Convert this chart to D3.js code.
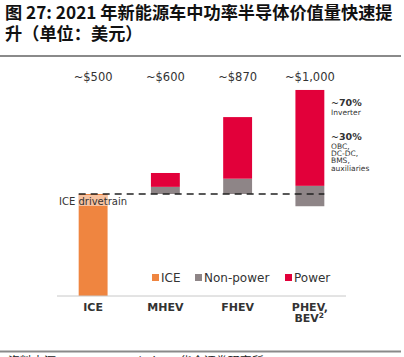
<!DOCTYPE html>
<html><head><meta charset="utf-8">
<script src="https://cdn.jsdelivr.net/npm/d3@7"></script>
<style>body{margin:0;background:#fff}svg{display:block}</style>
</head><body>
<script>
const categories = ["ICE", "MHEV", "FHEV", "PHEV,"];
const totalLabels = ["~$500", "~$600", "~$870", "~$1,000"];
// stacked segments: [start, end] in US$
const iceSeg = [[0, 500], null, null, null];
const nonPowerSeg = [null, [500, 535], [500, 575], [440, 540]];
const powerSeg = [null, [535, 603], [575, 877], [540, 1010]];
const baselineICE = 500;
const legendNames = ["ICE", "Non-power", "Power"];
const colors = {ICE: "#EF8540", "Non-power": "#8E8587", Power: "#E2003A"};

const W = 404, H = 357;
const svg = d3.select("body").append("svg").attr("width", W).attr("height", H);
const cjk = "'Noto Sans CJK SC', 'DejaVu Sans', sans-serif";
const lat = "'DejaVu Sans', sans-serif";

// title
svg.append("text").attr("x", 5).attr("y", 19).attr("font-family", cjk).attr("font-weight", "bold")
  .attr("font-size", 17.2).attr("fill", "#111").text("图 27: 2021 年新能源车中功率半导体价值量快速提");
svg.append("text").attr("x", 5).attr("y", 40).attr("font-family", cjk).attr("font-weight", "bold")
  .attr("font-size", 17.2).attr("fill", "#111").text("升（单位：美元）");
svg.append("line").attr("x1", 0).attr("x2", 401).attr("y1", 56).attr("y2", 56).attr("stroke", "#8a8a8a").attr("stroke-width", 2);
svg.append("line").attr("x1", 0).attr("x2", 401).attr("y1", 351.5).attr("y2", 351.5).attr("stroke", "#8a8a8a").attr("stroke-width", 2);
svg.append("text").attr("x", 8).attr("y", 366).attr("font-family", cjk)
  .attr("font-size", 12).attr("fill", "#222").text("资料来源：Strategy Analytics，华金证券研究所");

const x = d3.scaleBand().domain(categories).range([57, 346]).paddingInner(0.6).paddingOuter(0.3);
const y = d3.scaleLinear().domain([0, 500]).range([296, 194]);
const bw = x.bandwidth();

function drawSeg(arr, color) {
  svg.append("g").selectAll("rect").data(arr.map((s, i) => ({s, c: categories[i]})).filter(d => d.s))
    .join("rect").attr("x", d => x(d.c)).attr("width", bw)
    .attr("y", d => y(d.s[1])).attr("height", d => y(d.s[0]) - y(d.s[1])).attr("fill", color);
}
drawSeg(iceSeg, colors.ICE);
drawSeg(nonPowerSeg, colors["Non-power"]);
drawSeg(powerSeg, colors.Power);

// dashed ICE drivetrain line
svg.append("line").attr("x1", x(categories[0])).attr("x2", x(categories[3]) + bw)
  .attr("y1", y(baselineICE)).attr("y2", y(baselineICE))
  .attr("stroke", "#222").attr("stroke-width", 1.5).attr("stroke-dasharray", "7,5");
// label with translucent background
svg.append("rect").attr("x", x(categories[0])).attr("y", y(baselineICE) + 1).attr("width", bw).attr("height", 11)
  .attr("fill", "#fff").attr("opacity", 0.5);
svg.append("text").attr("x", 59).attr("y", y(baselineICE) + 11).attr("font-family", lat)
  .attr("font-size", 10).attr("fill", "#333").text("ICE drivetrain");

// total labels
svg.append("g").selectAll("text").data(categories).join("text")
  .attr("x", d => x(d) + bw / 2).attr("y", 81).attr("text-anchor", "middle")
  .attr("font-family", lat).attr("font-size", 11.5).attr("fill", "#333")
  .text((d, i) => totalLabels[i]);

// x axis
const xAxis = d3.axisBottom(x).tickSize(0).tickPadding(8);
const gx = svg.append("g").attr("transform", "translate(0,296)").call(xAxis);
gx.select(".domain").attr("stroke", "#c8c8c8").attr("stroke-width", 1).attr("d", "M57,0H346");
gx.selectAll(".tick text").attr("font-family", lat).attr("font-size", 11).attr("font-weight", "bold").attr("fill", "#333")
  .attr("y", 0).attr("dy", 15.2);
gx.append("text").attr("x", x(categories[3]) - 1).attr("y", 26.2).attr("text-anchor", "start")
  .attr("font-family", lat).attr("font-size", 11).attr("font-weight", "bold").attr("fill", "#333")
  .text("BEV").append("tspan").attr("dy", -4.5).attr("font-size", 7.5).text("2");

// legend
const lg = svg.append("g").attr("font-family", lat).attr("font-size", 12).attr("fill", "#333");
const lx = [152, 195, 285];
legendNames.forEach((n, i) => {
  lg.append("rect").attr("x", lx[i]).attr("y", 274).attr("width", 7).attr("height", 7).attr("fill", colors[n]);
  lg.append("text").attr("x", lx[i] + 9).attr("y", 282).text(n);
});

// annotations
const ax = 331;
const ann = svg.append("g").attr("font-family", lat).attr("fill", "#333");
ann.append("text").attr("x", ax).attr("y", 106).attr("font-size", 9.5).attr("font-weight", "bold").text("~70%");
ann.append("text").attr("x", ax).attr("y", 114.5).attr("font-size", 7.5).text("Inverter");
ann.append("text").attr("x", ax).attr("y", 140).attr("font-size", 9.5).attr("font-weight", "bold").text("~30%");
["OBC,", "DC-DC,", "BMS,", "auxiliaries"].forEach((t, i) => {
  ann.append("text").attr("x", ax).attr("y", 148.5 + i * 7.4).attr("font-size", 7.5).text(t);
});
</script>
</body></html>
